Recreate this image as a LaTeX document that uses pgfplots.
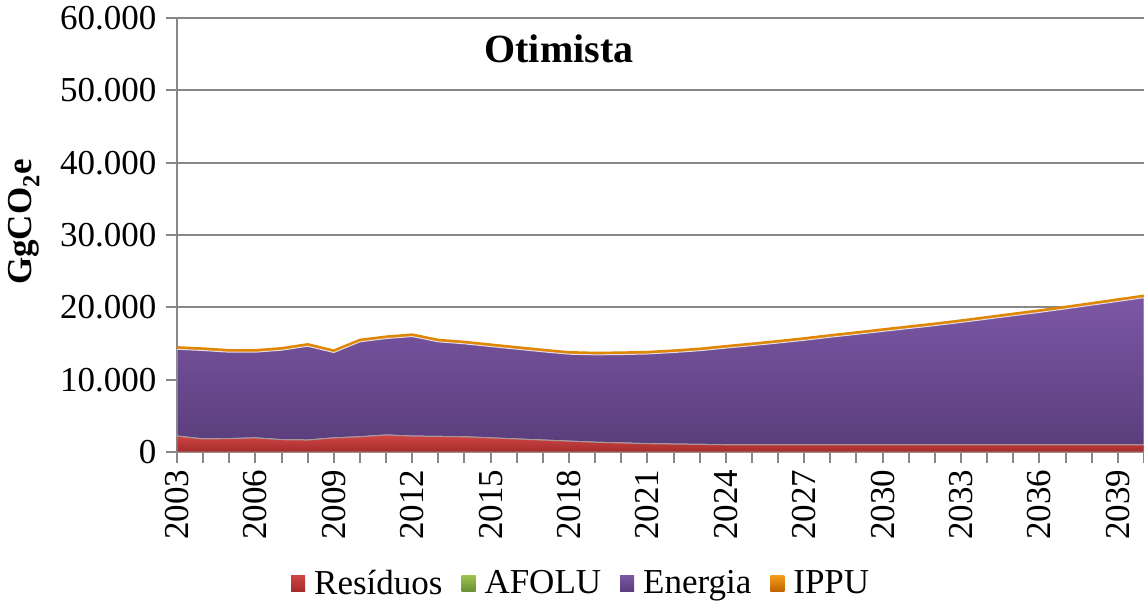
\documentclass[border=0pt]{standalone}
\usepackage{fontspec}
\setmainfont{Liberation Serif}
\usepackage{pgfplots}
\usepackage{pgfplotstable}
\pgfplotsset{compat=1.18}

\definecolor{gridgray}{HTML}{878787}
\definecolor{redtop}{HTML}{D24545}
\definecolor{redbot}{HTML}{A32C2C}
\definecolor{greentop}{HTML}{9CC350}
\definecolor{greenbot}{HTML}{6C9034}
\definecolor{purtop}{HTML}{7C57A5}
\definecolor{purbot}{HTML}{5A3E7C}
\definecolor{orgtop}{HTML}{F59D1E}
\definecolor{orgbot}{HTML}{C06600}
\definecolor{orgline}{HTML}{E08600}

\pgfplotstableread{
year res afolu ener ippu
2003 2200 0 12000 300
2004 1800 0 12230 300
2005 1850 0 11950 300
2006 1950 0 11850 300
2007 1700 0 12370 300
2008 1650 0 12970 300
2009 1950 0 11800 300
2010 2100 0 13130 300
2011 2350 0 13330 300
2012 2200 0 13760 300
2013 2150 0 13080 300
2014 2100 0 12850 300
2015 1950 0 12630 300
2016 1800 0 12410 300
2017 1650 0 12200 300
2018 1500 0 12020 300
2019 1350 0 12080 300
2020 1250 0 12220 300
2021 1150 0 12400 300
2022 1100 0 12650 300
2023 1050 0 12950 300
2024 1000 0 13360 300
2025 1000 0 13700 300
2026 1000 0 14060 300
2027 1000 0 14440 300
2028 1000 0 14870 300
2029 1000 0 15260 300
2030 1000 0 15670 300
2031 1000 0 16070 300
2032 1000 0 16470 300
2033 1000 0 16910 300
2034 1000 0 17370 300
2035 1000 0 17840 300
2036 1000 0 18300 300
2037 1000 0 18790 300
2038 1000 0 19300 300
2039 1000 0 19820 300
2040 1000 0 20330 300
}\data

\begin{document}
\begin{tikzpicture}
\begin{axis}[
  at={(0,0)}, anchor=south west,
  scale only axis,
  width=967bp, height=434bp,
  xmin=2003, xmax=2040,
  ymin=0, ymax=60000,
  stack plots=y,
  axis x line=bottom, axis y line=left,
  axis line style={-, draw=gridgray, line width=2bp},
  tick align=outside,
  major tick length=11bp, minor tick length=11bp,
  every tick/.style={draw=gridgray, line width=2bp},
  xtick={2003,2006,...,2039},
  minor xtick={2003,...,2040},
  ytick={0,10000,...,60000},
  ymajorgrids,
  grid style={draw=gridgray, line width=2bp},
  scaled y ticks=false,
  yticklabel shift=6bp,
  xticklabel shift=3bp,
  yticklabel style={/pgf/number format/.cd, 1000 sep={.}, assume math mode=true},
  xticklabel style={rotate=90, anchor=east, /pgf/number format/.cd, 1000 sep={}, assume math mode=true},
  tick label style={font=\fontsize{35bp}{42bp}\selectfont, text=black},
  legend style={at={(axis description cs:0.418,-0.302)}, anchor=center, draw=none, fill=none,
    legend columns=4, font=\fontsize{35bp}{42bp}\selectfont,
    /tikz/every even column/.append style={column sep=17bp},
    /tikz/every odd column/.append style={column sep=7bp}},
  legend cell align=left,
  legend image code/.code={\path[#1, draw=none] (0bp,-8bp) rectangle (14bp,8bp);},
  clip mode=individual,
]
\addplot[draw={rgb,255:red,170;green,150;blue,150}, line width=1bp, top color=redtop, bottom color=redbot] table[x=year, y=res] {\data} \closedcycle;
\addlegendentry{Resíduos}
\addplot[draw=none, top color=greentop, bottom color=greenbot] table[x=year, y=afolu] {\data} \closedcycle;
\addlegendentry{AFOLU}
\addplot[draw={rgb,255:red,225;green,220;blue,230}, line width=1bp, top color=purtop, bottom color=purbot] table[x=year, y=ener] {\data} \closedcycle;
\addlegendentry{Energia}
\addplot[draw=orgline, line width=2bp, top color=orgtop, bottom color=orgbot] table[x=year, y=ippu] {\data} \closedcycle;
\addlegendentry{IPPU}

\node[font=\fontsize{40bp}{48bp}\selectfont\bfseries, anchor=center] at (axis description cs:0.395,0.929) {Otimista};
\node[font=\fontsize{35bp}{42bp}\selectfont\bfseries, rotate=90, anchor=center] at ([xshift=-153bp, yshift=13bp]axis description cs:0,0.5) {GgCO\textsubscript{2}e};
\end{axis}
\pgfresetboundingbox
\useasboundingbox (-177bp,-153bp) rectangle (967bp,452bp);
\end{tikzpicture}
\end{document}
